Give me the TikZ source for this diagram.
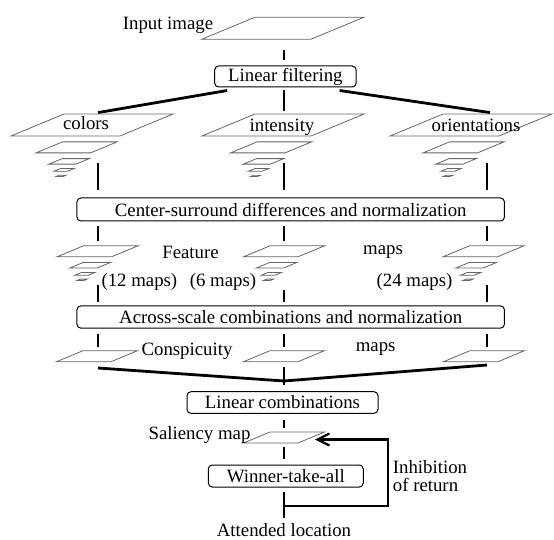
\documentclass[tikz,border=0pt]{standalone}
\usepackage{fontspec}
\setmainfont{Liberation Serif}
\usetikzlibrary{arrows.meta}
\usetikzlibrary{calc}

\newcommand{\mapplane}[3]{%
  \draw[plane] ({#1-81*#3},{#2+11*#3}) -- ++({109*#3},0) -- ++({53*#3},{-22*#3}) -- ++({-109*#3},0) -- cycle;}
\newcommand{\mapstack}[2]{%
  \foreach \s/\dx/\dy in {0.5/0/0,0.25/-7.5/14,0.125/-12.5/22.5,0.0625/-15.5/28.5}
    {\mapplane{#1+\dx}{#2+\dy}{\s}}}

\begin{document}
\begin{tikzpicture}[x=1pt,y=-1pt,
    font=\fontsize{18.8}{20}\selectfont,
    box/.style={draw, rounded corners=4pt, line width=1pt, inner sep=1pt},
    plane/.style={draw=black!60, line width=0.8pt},
    link/.style={line width=2.2pt},
    bus/.style={line width=2.8pt}]

      \useasboundingbox (0,0) rectangle (554,540);

      \node (input) at (168,25) {Input image};
      \mapplane{283}{28.2}{1}
      \node[box, minimum width=141.5pt, minimum height=21pt] (filter) at (285.4,76.5) {Linear filtering};

      \coordinate (inbot) at (284,50);
      \coordinate (midtop) at (284,111);
      \coordinate (colA) at (98,112.6);
      \coordinate (colC) at (490,112.6);
      \draw[link, shorten >=5.5pt] (inbot) -- (inbot |- filter.north);
      \draw[link, shorten <=3pt] (filter.south -| midtop) -- (midtop);
      \draw[bus] ($(filter.south west)+(13,3)$) -- (colA);
      \draw[bus] ($(filter.south east)+(-17,3)$) -- (colC);

      \mapplane{92}{125}{1}
      \mapplane{283}{125}{1}
      \mapplane{471}{125}{1}
      \node (colors) at (86,123) {colors};
      \node (intensity) at (282,127) {intensity};
      \node (orient) at (476,125) {orientations};

      \mapstack{76.5}{147.4}
      \mapstack{271}{147.4}
      \mapstack{463.5}{147.4}

      \node[box, minimum width=427.5pt, minimum height=23pt] (csd) at (290.7,209.5) {Center-surround differences and normalization};

      \coordinate (c1) at (98,163);
      \coordinate (c2) at (284,163);
      \coordinate (c3) at (487,163);
      \coordinate (f1) at (98,245.5);
      \coordinate (f2) at (284,245.5);
      \coordinate (f3) at (487,245.5);
      \foreach \i in {1,2,3} {
        \draw[link, shorten >=7pt] (c\i) -- (c\i |- csd.north);
        \draw[link, shorten <=4pt, shorten >=5pt] (f\i |- csd.south) -- (f\i);
      }

      \mapstack{97.5}{251.3}
      \mapstack{284}{251.3}
      \mapstack{483.5}{251.3}
      \node (feature) at (190.5,252) {Feature};
      \node (fmaps) at (383,252) {maps};
      \node (n12) at (139.4,282) {(12 maps)};
      \node (n6) at (223,282) {(6 maps)};
      \node (n24) at (414.5,282) {(24 maps)};

      \node[box, minimum width=427.5pt, minimum height=22.3pt] (across) at (290.7,317) {Across-scale combinations and normalization};

      \coordinate (g1) at (98,285);
      \coordinate (g2) at (284,290);
      \coordinate (g3) at (487,285);
      \coordinate (h1) at (98,350.6);
      \coordinate (h2) at (284,350.6);
      \coordinate (h3) at (487,350.6);
      \foreach \i in {1,2,3} {
        \draw[link, shorten >=3.7pt] (g\i) -- (g\i |- across.north);
        \draw[link, shorten <=5pt, shorten >=4pt] (h\i |- across.south) -- (h\i);
      }

      \mapplane{97}{356.2}{0.5}
      \mapplane{284}{356.2}{0.5}
      \mapplane{484}{356.2}{0.5}
      \node (consp) at (187,351.6) {Conspicuity};
      \node (cmaps) at (375.7,349) {maps};

      \node[box, minimum width=191pt, minimum height=21.6pt] (lincomb) at (282.5,402.5) {Linear combinations};

      \coordinate (k1) at (98,368);
      \coordinate (k2) at (284,367);
      \coordinate (k3) at (487,365);
      \coordinate (merge) at (284,381);
      \draw[bus] (k1) -- (merge) -- (k3);
      \draw[link, shorten >=6pt] (k2) -- (k2 |- lincomb.north);

      \mapplane{284}{437.5}{0.5}
      \node (saliency) at (199.5,435) {Saliency map};
      \coordinate (saltop) at (284,431.7);
      \coordinate (salbot) at (284,443.3);
      \coordinate (salr) at (315,439.5);

      \node[box, minimum width=155pt, minimum height=22pt] (wta) at (285.8,476) {Winner-take-all};
      \node (attend) at (284,530) {Attended location};
      \node[align=left, anchor=west, inner sep=0pt, font=\fontsize{18.8}{18}\selectfont] (inhib) at (392.7,476.5) {Inhibition\\of return};

      \draw[link, shorten <=5.7pt, shorten >=3.7pt] (lincomb.south -| saltop) -- (saltop);
      \draw[link, shorten <=3.4pt, shorten >=5.7pt] (salbot) -- (salbot |- wta.north);
      \draw[link, shorten <=4.7pt, shorten >=2pt] (wta.south -| attend.north) -- (attend.north);

      \coordinate (fb) at (284,506);
      \coordinate (loop) at (388,506);
      \draw[link, -{Straight Barb[length=12pt,width=12pt,line width=2.2pt]}] (fb) -- (loop) -- (loop |- salr) -- (salr);
    \end{tikzpicture}
\end{document}
